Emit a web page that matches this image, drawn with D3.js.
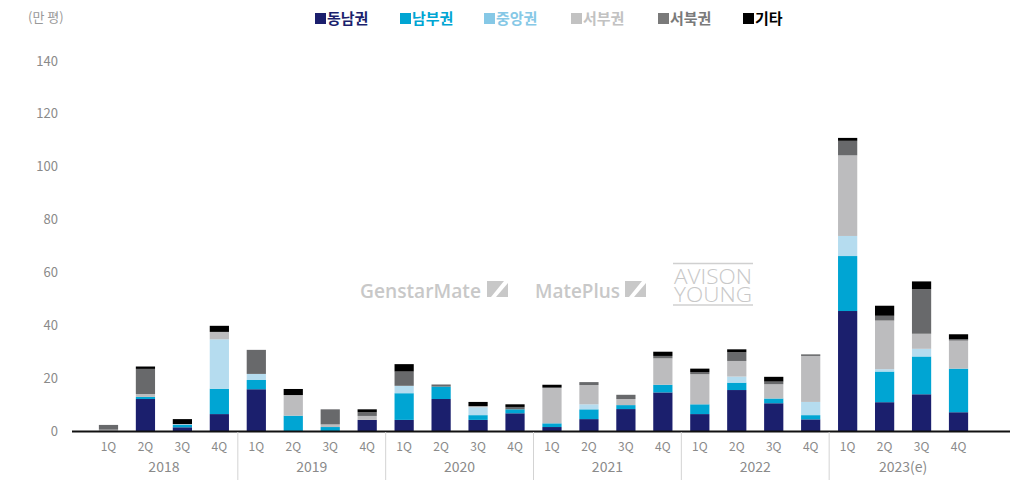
<!DOCTYPE html>
<html>
<head>
<meta charset="utf-8">
<script src="https://cdn.jsdelivr.net/npm/d3@7"></script>
<style>
  body { margin: 0; background: #fff; }
  svg { display: block; }
</style>
</head>
<body>
<svg id="chart" width="1032" height="480"></svg>
<script>
// quarterly supply by region (만 평)
var years = ['2018', '2019', '2020', '2021', '2022', '2023(e)'];
var quarters = ['1Q', '2Q', '3Q', '4Q'];
var seriesNames = ['동남권', '남부권', '중앙권', '서부권', '서북권', '기타'];
var yTicks = [0, 20, 40, 60, 80, 100, 120, 140];

var southeast = [0, 12.1, 1.4, 6.4, 15.8, 0, 0, 4.2, 4.2, 12.1, 4.2, 6.7, 1.5, 4.5, 8.3, 14.6, 6.4, 15.5, 10.5, 4.4, 45.4, 10.9, 13.9, 7.1];
var south = [0, 0.8, 0.9, 9.6, 3.5, 5.8, 1.5, 0, 10.1, 4.7, 1.8, 1.5, 1.4, 3.7, 1.5, 2.9, 3.7, 2.8, 1.8, 1.6, 20.8, 11.6, 14.3, 16.5];
var central = [0, 0, 0.3, 18.7, 2.3, 0, 0, 0, 2.8, 0, 3.0, 0, 0, 1.9, 0, 0, 0, 2.3, 0, 5.0, 7.6, 0.9, 2.9, 0];
var west = [0.5, 1.1, 0, 2.8, 0, 7.8, 1.0, 1.5, 0, 0, 0.4, 0, 13.5, 7.3, 2.3, 10.0, 11.4, 5.9, 5.4, 17.4, 30.5, 18.4, 5.7, 10.6];
var northwest = [1.8, 9.5, 0, 0, 9.1, 0, 5.7, 1.4, 5.4, 0.8, 0, 0.9, 0, 1.1, 1.6, 0.9, 0.8, 3.3, 1.0, 0.6, 5.5, 1.8, 16.9, 0.5];
var other = [0, 0.9, 1.9, 2.3, 0, 2.3, 0, 1.1, 2.8, 0, 1.6, 1.0, 1.1, 0, 0, 1.6, 1.3, 1.1, 1.8, 0, 1.1, 3.8, 2.9, 1.9];

var colors = ['#1b1f6d', '#00a5d3', '#b5dcef', '#bcbcbe', '#68696b', '#000000'];
var legendText = ['#1b1f6d', '#00a5d3', '#86c8e6', '#c2c2c2', '#7a7a7a', '#000000'];

var FONT = "'Noto Sans CJK KR', 'Noto Sans', sans-serif";
var TICK_COLOR = '#8a8a8a';
var WM_COLOR = '#c8c8c8';

var svg = d3.select('#chart');

// build row table for the stack
var rows = [];
years.forEach(function(y, yi) {
  quarters.forEach(function(q, qi) {
    var i = yi * 4 + qi;
    rows.push({
      id: y + '-' + q, year: y, q: q,
      '동남권': southeast[i], '남부권': south[i], '중앙권': central[i],
      '서부권': west[i], '서북권': northwest[i], '기타': other[i]
    });
  });
});

var x = d3.scaleBand()
  .domain(rows.map(function(d) { return d.id; }))
  .range([90, 977])
  .paddingInner(0.48)
  .paddingOuter(0.24);

var y = d3.scaleLinear().domain([0, 140]).range([431, 61]);

var stack = d3.stack().keys(seriesNames)(rows);

// y tick labels (no axis line)
svg.append('g').selectAll('text')
  .data(yTicks).enter()
  .append('text')
  .attr('x', 58)
  .attr('y', function(d) { return y(d); })
  .attr('dy', '0.35em')
  .attr('text-anchor', 'end')
  .attr('fill', TICK_COLOR)
  .attr('font-family', FONT)
  .attr('font-size', 13)
  .text(function(d) { return d; });

svg.append('text')
  .attr('x', 28).attr('y', 22)
  .attr('fill', '#999').attr('font-family', FONT).attr('font-size', 13)
  .text('(만 평)');

// watermark logos
function drawIcon(g, x0, y0) {
  g.append('rect').attr('x', x0).attr('y', y0).attr('width', 21).attr('height', 16).attr('fill', WM_COLOR);
  g.append('polygon')
    .attr('points', [[x0 + 4, y0 + 16], [x0 + 9, y0 + 16], [x0 + 21, y0 + 2], [x0 + 21, y0], [x0 + 17, y0]].join(' '))
    .attr('fill', '#fff');
}
var wm = svg.append('g').attr('class', 'watermark');
wm.append('text').attr('x', 360).attr('y', 298)
  .attr('textLength', 121).attr('lengthAdjust', 'spacingAndGlyphs')
  .attr('font-family', "'Open Sans', sans-serif").attr('font-weight', 600).attr('font-size', 19)
  .attr('fill', WM_COLOR).text('GenstarMate');
drawIcon(wm, 487, 281);
wm.append('text').attr('x', 535).attr('y', 298)
  .attr('textLength', 85).attr('lengthAdjust', 'spacingAndGlyphs')
  .attr('font-family', "'Open Sans', sans-serif").attr('font-weight', 600).attr('font-size', 19)
  .attr('fill', WM_COLOR).text('MatePlus');
drawIcon(wm, 625, 281);
wm.append('line').attr('x1', 673).attr('x2', 753).attr('y1', 263.5).attr('y2', 263.5).attr('stroke', '#d0d0d0').attr('stroke-width', 1.5);
wm.append('line').attr('x1', 673).attr('x2', 753).attr('y1', 305).attr('y2', 305).attr('stroke', '#d0d0d0').attr('stroke-width', 1.5);
var av = wm.append('text')
  .attr('font-family', "'Open Sans', sans-serif").attr('font-weight', 300).attr('font-size', 21)
  .attr('fill', WM_COLOR);
av.append('tspan').attr('x', 674).attr('y', 284)
  .attr('textLength', 78).attr('lengthAdjust', 'spacingAndGlyphs').text('AVISON');
av.append('tspan').attr('x', 674).attr('y', 302)
  .attr('textLength', 78).attr('lengthAdjust', 'spacingAndGlyphs').text('YOUNG');

// stacked bars
var layers = svg.append('g').selectAll('g')
  .data(stack).enter()
  .append('g')
  .attr('fill', function(d, i) { return colors[i]; });

layers.selectAll('rect')
  .data(function(d) { return d; }).enter()
  .append('rect')
  .attr('x', function(d) { return x(d.data.id); })
  .attr('width', x.bandwidth())
  .attr('y', function(d) { return y(d[1]); })
  .attr('height', function(d) { return y(d[0]) - y(d[1]); });

// x axis baseline
svg.append('line')
  .attr('x1', 72).attr('x2', 1010)
  .attr('y1', y(0) + 0.5).attr('y2', y(0) + 0.5)
  .attr('stroke', '#111').attr('stroke-width', 2);

// quarter labels
svg.append('g').selectAll('text')
  .data(rows).enter()
  .append('text')
  .attr('x', function(d) { return x(d.id) + x.bandwidth() / 2; })
  .attr('y', 447)
  .attr('dy', '0.35em')
  .attr('text-anchor', 'middle')
  .attr('fill', TICK_COLOR)
  .attr('font-family', FONT)
  .attr('font-size', 12)
  .text(function(d) { return d.q; });

// year labels and separators
var step = x.step();
var gap = step * x.paddingInner() / 2;
years.forEach(function(yr, yi) {
  var first = x(yr + '-1Q');
  var last = x(yr + '-4Q') + x.bandwidth();
  svg.append('text')
    .attr('x', (first + last) / 2)
    .attr('y', 467)
    .attr('dy', '0.35em')
    .attr('text-anchor', 'middle')
    .attr('fill', TICK_COLOR)
    .attr('font-family', FONT)
    .attr('font-size', 14)
    .text(yr);
  if (yi > 0) {
    svg.append('line')
      .attr('x1', first - gap).attr('x2', first - gap)
      .attr('y1', y(0) + 1).attr('y2', 480)
      .attr('stroke', '#d3d3d3').attr('stroke-width', 1);
  }
});

// legend
var legendX = [315, 400, 484, 571, 658, 743];
var legend = svg.append('g').selectAll('g')
  .data(seriesNames).enter()
  .append('g')
  .attr('transform', function(d, i) { return 'translate(' + legendX[i] + ',0)'; });

legend.append('rect')
  .attr('x', 0).attr('y', 13)
  .attr('width', 11).attr('height', 11)
  .attr('fill', function(d, i) { return legendText[i]; });

legend.append('text')
  .attr('x', 12).attr('y', 19)
  .attr('dy', '0.35em')
  .attr('fill', function(d, i) { return legendText[i]; })
  .attr('font-family', FONT)
  .attr('font-weight', 700)
  .attr('font-size', 15)
  .text(function(d) { return d; });
</script>
</body>
</html>
